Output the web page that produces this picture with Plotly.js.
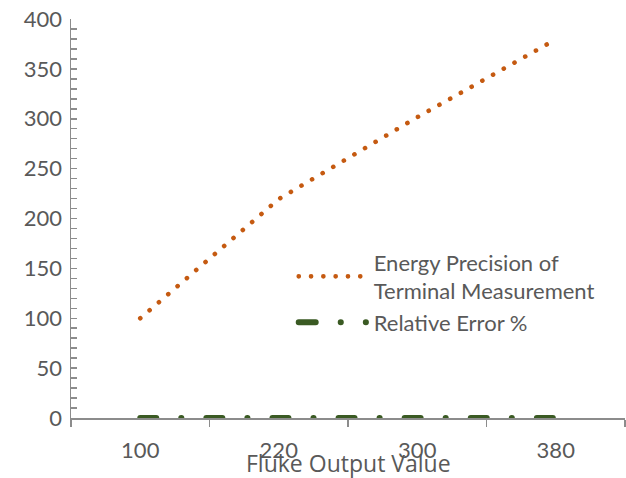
<!DOCTYPE html>
<html>
<head>
<meta charset="utf-8">
<script src="https://cdn.plot.ly/plotly-3.0.1.min.js"></script>
<style>
html,body{margin:0;padding:0;background:#fff;}
#chart{width:626px;height:478px;}
path.js-line { stroke-linecap: round !important; }
</style>
</head>
<body>
<div id="chart"></div>
<script>
// Data
const categories = ['100', '220', '300', '380'];
const energyPrecision = [100, 219.5, 301.5, 379.5];
const relativeError = [0.0, -0.2, 0.5, -0.1];
const seriesNames = ['Energy Precision of<br>Terminal Measurement', 'Relative Error %'];
const yTicks = [0, 50, 100, 150, 200, 250, 300, 350, 400];

const textColor = '#595959';
const axisColor = '#8C8C8C';
const tickFont = {family: 'Lato, sans-serif', size: 22, color: textColor};

const traces = [
  {
    x: categories, y: energyPrecision, name: seriesNames[0],
    type: 'scatter', mode: 'lines',
    line: {color: '#C55A11', width: 4.6, dash: '0.1px,12.2px'}
  },
  {
    x: categories, y: relativeError, name: seriesNames[1],
    type: 'scatter', mode: 'lines',
    line: {color: '#3A5A23', width: 6, dash: '16px,25px,0.1px,25px'}
  }
];

const layout = {
  width: 626, height: 478,
  margin: {l: 71, r: 1, t: 19, b: 60},
  paper_bgcolor: '#fff', plot_bgcolor: '#fff',
  showlegend: true,
  legend: {
    x: 0.402, xanchor: 'left', y: 0.443, yanchor: 'top',
    font: {family: 'Lato, sans-serif', size: 22, color: textColor},
    itemwidth: 70, tracegroupgap: 8, bgcolor: 'rgba(0,0,0,0)'
  },
  xaxis: {
    type: 'category', range: [-0.5, 3.5],
    showline: true, linecolor: axisColor, linewidth: 1.5,
    ticks: 'outside', tickson: 'boundaries', ticklen: 7, tickcolor: axisColor, tickwidth: 1.5,
    showgrid: false, zeroline: false,
    tickfont: tickFont, ticklabelstandoff: 12,
    fixedrange: true
  },
  yaxis: {
    range: [0, 400], tickmode: 'array', tickvals: yTicks, ticktext: yTicks.map(String),
    showline: true, linecolor: axisColor, linewidth: 1.5,
    ticks: 'inside', ticklen: 6, tickcolor: axisColor, tickwidth: 1.5,
    minor: {ticks: 'inside', dtick: 10, ticklen: 6, tickcolor: axisColor, tickwidth: 1.5, showgrid: false},
    showgrid: false, zeroline: false,
    tickfont: tickFont, ticklabelstandoff: 3,
    fixedrange: true
  },
  annotations: [{
    text: 'Fluke Output Value', xref: 'paper', yref: 'paper',
    x: 0.5, y: 0, yshift: -45, xanchor: 'center', yanchor: 'middle',
    showarrow: false,
    font: {family: '"Open Sans", sans-serif', size: 23, color: textColor}
  }]
};

Plotly.newPlot('chart', traces, layout, {staticPlot: true, displayModeBar: false}).then(function(gd){
  // legend line samples sized like the reference
  const paths = document.querySelectorAll('.legend .legendlines path');
  paths.forEach(function(p, i){
    if (i === 0) {
      p.setAttribute('d', 'M5,0h62');
    } else if (i === 1) {
      p.setAttribute('d', 'M5,0h67.5');
      p.style.strokeDasharray = '17px,25px,0.1px,25px,0.1px,100px';
    }
  });
});
</script>
</body>
</html>
